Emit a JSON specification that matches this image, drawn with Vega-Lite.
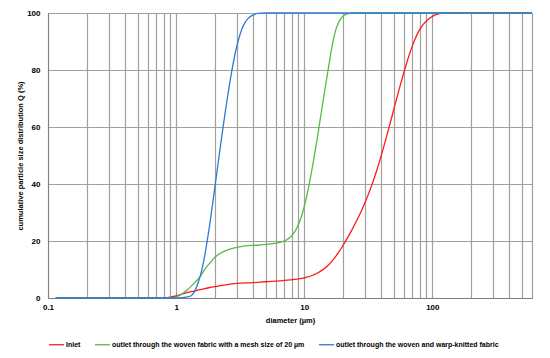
{
  "$schema": "https://vega.github.io/schema/vega-lite/v6.json",
  "width": 484,
  "height": 285,
  "autosize": {"type": "none"},
  "padding": {"left": 48, "top": 13, "right": 18, "bottom": 60},
  "background": "white",
  "config": {
    "view": {"stroke": "#7f7f7f", "strokeWidth": 1},
    "font": "Liberation Sans"
  },
  "data": {
    "values": [
      {"d": 0.115, "q": 0, "s": "Inlet"},
      {"d": 0.8, "q": 0, "s": "Inlet"},
      {"d": 0.9, "q": 0.3, "s": "Inlet"},
      {"d": 1.0, "q": 0.7, "s": "Inlet"},
      {"d": 1.14, "q": 1.5, "s": "Inlet"},
      {"d": 1.3, "q": 2.2, "s": "Inlet"},
      {"d": 1.54, "q": 2.9, "s": "Inlet"},
      {"d": 1.8, "q": 3.6, "s": "Inlet"},
      {"d": 2.08, "q": 4.1, "s": "Inlet"},
      {"d": 2.5, "q": 4.7, "s": "Inlet"},
      {"d": 3.0, "q": 5.1, "s": "Inlet"},
      {"d": 4.0, "q": 5.4, "s": "Inlet"},
      {"d": 5.0, "q": 5.7, "s": "Inlet"},
      {"d": 6.5, "q": 6.0, "s": "Inlet"},
      {"d": 7.75, "q": 6.35, "s": "Inlet"},
      {"d": 9.3, "q": 6.8, "s": "Inlet"},
      {"d": 10.5, "q": 7.3, "s": "Inlet"},
      {"d": 11.51, "q": 7.9, "s": "Inlet"},
      {"d": 12.62, "q": 8.7, "s": "Inlet"},
      {"d": 13.84, "q": 9.78, "s": "Inlet"},
      {"d": 15.18, "q": 11.22, "s": "Inlet"},
      {"d": 16.64, "q": 13.14, "s": "Inlet"},
      {"d": 18.25, "q": 15.54, "s": "Inlet"},
      {"d": 20.01, "q": 18.34, "s": "Inlet"},
      {"d": 21.3, "q": 20.4, "s": "Inlet"},
      {"d": 23.35, "q": 23.56, "s": "Inlet"},
      {"d": 25.6, "q": 27.0, "s": "Inlet"},
      {"d": 28.08, "q": 30.8, "s": "Inlet"},
      {"d": 30.79, "q": 35.0, "s": "Inlet"},
      {"d": 33.76, "q": 39.7, "s": "Inlet"},
      {"d": 37.02, "q": 45.1, "s": "Inlet"},
      {"d": 40.6, "q": 51.1, "s": "Inlet"},
      {"d": 44.5, "q": 57.6, "s": "Inlet"},
      {"d": 48.8, "q": 64.3, "s": "Inlet"},
      {"d": 53.5, "q": 71.1, "s": "Inlet"},
      {"d": 58.7, "q": 77.7, "s": "Inlet"},
      {"d": 64.3, "q": 83.7, "s": "Inlet"},
      {"d": 70.5, "q": 88.9, "s": "Inlet"},
      {"d": 77.3, "q": 93.1, "s": "Inlet"},
      {"d": 84.7, "q": 95.9, "s": "Inlet"},
      {"d": 92.9, "q": 97.8, "s": "Inlet"},
      {"d": 101.9, "q": 99.0, "s": "Inlet"},
      {"d": 111.7, "q": 99.7, "s": "Inlet"},
      {"d": 122.5, "q": 99.95, "s": "Inlet"},
      {"d": 134, "q": 100, "s": "Inlet"},
      {"d": 600, "q": 100, "s": "Inlet"},
      {"d": 0.115, "q": 0, "s": "outlet through the woven fabric with a mesh size of 20 µm"},
      {"d": 0.93, "q": 0, "s": "outlet through the woven fabric with a mesh size of 20 µm"},
      {"d": 1.07, "q": 1, "s": "outlet through the woven fabric with a mesh size of 20 µm"},
      {"d": 1.2, "q": 2.5, "s": "outlet through the woven fabric with a mesh size of 20 µm"},
      {"d": 1.37, "q": 5, "s": "outlet through the woven fabric with a mesh size of 20 µm"},
      {"d": 1.54, "q": 7.5, "s": "outlet through the woven fabric with a mesh size of 20 µm"},
      {"d": 1.7, "q": 10.5, "s": "outlet through the woven fabric with a mesh size of 20 µm"},
      {"d": 1.84, "q": 12.3, "s": "outlet through the woven fabric with a mesh size of 20 µm"},
      {"d": 2.0, "q": 14.2, "s": "outlet through the woven fabric with a mesh size of 20 µm"},
      {"d": 2.2, "q": 15.6, "s": "outlet through the woven fabric with a mesh size of 20 µm"},
      {"d": 2.5, "q": 16.8, "s": "outlet through the woven fabric with a mesh size of 20 µm"},
      {"d": 2.8, "q": 17.5, "s": "outlet through the woven fabric with a mesh size of 20 µm"},
      {"d": 3.36, "q": 18.2, "s": "outlet through the woven fabric with a mesh size of 20 µm"},
      {"d": 4.5, "q": 18.6, "s": "outlet through the woven fabric with a mesh size of 20 µm"},
      {"d": 5.5, "q": 19.0, "s": "outlet through the woven fabric with a mesh size of 20 µm"},
      {"d": 6.31, "q": 19.4, "s": "outlet through the woven fabric with a mesh size of 20 µm"},
      {"d": 6.76, "q": 19.76, "s": "outlet through the woven fabric with a mesh size of 20 µm"},
      {"d": 7.24, "q": 20.36, "s": "outlet through the woven fabric with a mesh size of 20 µm"},
      {"d": 7.76, "q": 21.32, "s": "outlet through the woven fabric with a mesh size of 20 µm"},
      {"d": 8.32, "q": 22.88, "s": "outlet through the woven fabric with a mesh size of 20 µm"},
      {"d": 8.91, "q": 25.28, "s": "outlet through the woven fabric with a mesh size of 20 µm"},
      {"d": 9.55, "q": 28.88, "s": "outlet through the woven fabric with a mesh size of 20 µm"},
      {"d": 10.23, "q": 33.83, "s": "outlet through the woven fabric with a mesh size of 20 µm"},
      {"d": 10.96, "q": 40.13, "s": "outlet through the woven fabric with a mesh size of 20 µm"},
      {"d": 11.75, "q": 47.48, "s": "outlet through the woven fabric with a mesh size of 20 µm"},
      {"d": 12.59, "q": 55.58, "s": "outlet through the woven fabric with a mesh size of 20 µm"},
      {"d": 13.49, "q": 64.13, "s": "outlet through the woven fabric with a mesh size of 20 µm"},
      {"d": 14.45, "q": 72.68, "s": "outlet through the woven fabric with a mesh size of 20 µm"},
      {"d": 15.49, "q": 80.93, "s": "outlet through the woven fabric with a mesh size of 20 µm"},
      {"d": 16.6, "q": 89.0, "s": "outlet through the woven fabric with a mesh size of 20 µm"},
      {"d": 17.78, "q": 94.6, "s": "outlet through the woven fabric with a mesh size of 20 µm"},
      {"d": 19.05, "q": 97.6, "s": "outlet through the woven fabric with a mesh size of 20 µm"},
      {"d": 20.42, "q": 99.1, "s": "outlet through the woven fabric with a mesh size of 20 µm"},
      {"d": 21.88, "q": 99.7, "s": "outlet through the woven fabric with a mesh size of 20 µm"},
      {"d": 23.44, "q": 99.95, "s": "outlet through the woven fabric with a mesh size of 20 µm"},
      {"d": 25.1, "q": 100, "s": "outlet through the woven fabric with a mesh size of 20 µm"},
      {"d": 600, "q": 100, "s": "outlet through the woven fabric with a mesh size of 20 µm"},
      {"d": 0.115, "q": 0, "s": "outlet through the woven and warp-knitted fabric"},
      {"d": 1.0, "q": 0, "s": "outlet through the woven and warp-knitted fabric"},
      {"d": 1.1, "q": 0.1, "s": "outlet through the woven and warp-knitted fabric"},
      {"d": 1.2, "q": 0.3, "s": "outlet through the woven and warp-knitted fabric"},
      {"d": 1.3, "q": 0.7, "s": "outlet through the woven and warp-knitted fabric"},
      {"d": 1.361, "q": 1.6, "s": "outlet through the woven and warp-knitted fabric"},
      {"d": 1.425, "q": 3.2, "s": "outlet through the woven and warp-knitted fabric"},
      {"d": 1.493, "q": 5.6, "s": "outlet through the woven and warp-knitted fabric"},
      {"d": 1.54, "q": 7.6, "s": "outlet through the woven and warp-knitted fabric"},
      {"d": 1.632, "q": 12.35, "s": "outlet through the woven and warp-knitted fabric"},
      {"d": 1.728, "q": 18.6, "s": "outlet through the woven and warp-knitted fabric"},
      {"d": 1.83, "q": 25.85, "s": "outlet through the woven and warp-knitted fabric"},
      {"d": 1.939, "q": 33.85, "s": "outlet through the woven and warp-knitted fabric"},
      {"d": 2.054, "q": 42.2, "s": "outlet through the woven and warp-knitted fabric"},
      {"d": 2.176, "q": 50.6, "s": "outlet through the woven and warp-knitted fabric"},
      {"d": 2.305, "q": 58.7, "s": "outlet through the woven and warp-knitted fabric"},
      {"d": 2.441, "q": 66.45, "s": "outlet through the woven and warp-knitted fabric"},
      {"d": 2.585, "q": 73.7, "s": "outlet through the woven and warp-knitted fabric"},
      {"d": 2.738, "q": 80.3, "s": "outlet through the woven and warp-knitted fabric"},
      {"d": 2.9, "q": 86.05, "s": "outlet through the woven and warp-knitted fabric"},
      {"d": 3.073, "q": 90.7, "s": "outlet through the woven and warp-knitted fabric"},
      {"d": 3.255, "q": 94.2, "s": "outlet through the woven and warp-knitted fabric"},
      {"d": 3.448, "q": 96.6, "s": "outlet through the woven and warp-knitted fabric"},
      {"d": 3.652, "q": 98.1, "s": "outlet through the woven and warp-knitted fabric"},
      {"d": 3.869, "q": 99.0, "s": "outlet through the woven and warp-knitted fabric"},
      {"d": 4.1, "q": 99.55, "s": "outlet through the woven and warp-knitted fabric"},
      {"d": 4.34, "q": 99.85, "s": "outlet through the woven and warp-knitted fabric"},
      {"d": 4.6, "q": 99.97, "s": "outlet through the woven and warp-knitted fabric"},
      {"d": 5.0, "q": 100, "s": "outlet through the woven and warp-knitted fabric"},
      {"d": 600, "q": 100, "s": "outlet through the woven and warp-knitted fabric"}
    ]
  },
  "mark": {"type": "line", "strokeWidth": 1.3, "interpolate": "monotone"},
  "encoding": {
    "x": {
      "field": "d",
      "type": "quantitative",
      "scale": {"type": "log", "domain": [0.1, 600], "nice": false},
      "axis": {
        "values": [0.1, 0.2, 0.3, 0.4, 0.5, 0.6, 0.7, 0.8, 0.9, 1, 2, 3, 4, 5, 6, 7, 8, 9, 10, 20, 30, 40, 50, 60, 70, 80, 90, 100, 200, 300, 400, 500, 600],
        "labelExpr": "datum.value == 0.1 ? '0.1' : datum.value == 1 ? '1' : datum.value == 10 ? '10' : datum.value == 100 ? '100' : ''",
        "labelOverlap": false,
        "labelFlush": false,
        "grid": true,
        "gridColor": "#a0a0a0",
        "gridWidth": 1.2,
        "ticks": false,
        "domainColor": "#7f7f7f",
        "labelFontSize": 8,
        "labelFontWeight": "bold",
        "labelColor": "#000000",
        "labelPadding": 5,
        "title": "diameter (µm)",
        "titleFontSize": 7.5,
        "titleFontWeight": "bold",
        "titleColor": "#000000",
        "titlePadding": 5
      }
    },
    "y": {
      "field": "q",
      "type": "quantitative",
      "scale": {"domain": [0, 100], "nice": false},
      "axis": {
        "values": [0, 20, 40, 60, 80, 100],
        "grid": true,
        "gridColor": "#a0a0a0",
        "gridWidth": 1.2,
        "ticks": false,
        "domainColor": "#7f7f7f",
        "labelFontSize": 8,
        "labelFontWeight": "bold",
        "labelColor": "#000000",
        "labelPadding": 8,
        "title": "cumulative particle size distribution Q (%)",
        "titleFontSize": 7.5,
        "titleFontWeight": "bold",
        "titleColor": "#000000",
        "titlePadding": 2
      }
    },
    "color": {
      "field": "s",
      "type": "nominal",
      "scale": {
        "domain": ["Inlet", "outlet through the woven fabric with a mesh size of 20 µm", "outlet through the woven and warp-knitted fabric"],
        "range": ["#ff1a1a", "#5ab946", "#2f7ad6"]
      },
      "legend": {
        "title": null,
        "orient": "none",
        "legendX": 0,
        "legendY": 323,
        "direction": "horizontal",
        "symbolType": "stroke",
        "symbolSize": 225,
        "symbolStrokeWidth": 1.3,
        "labelFontSize": 7,
        "labelFontWeight": "bold",
        "labelColor": "#000000",
        "labelOffset": 1,
        "columnPadding": 11,
        "padding": 0,
        "labelLimit": 400
      }
    }
  }
}
